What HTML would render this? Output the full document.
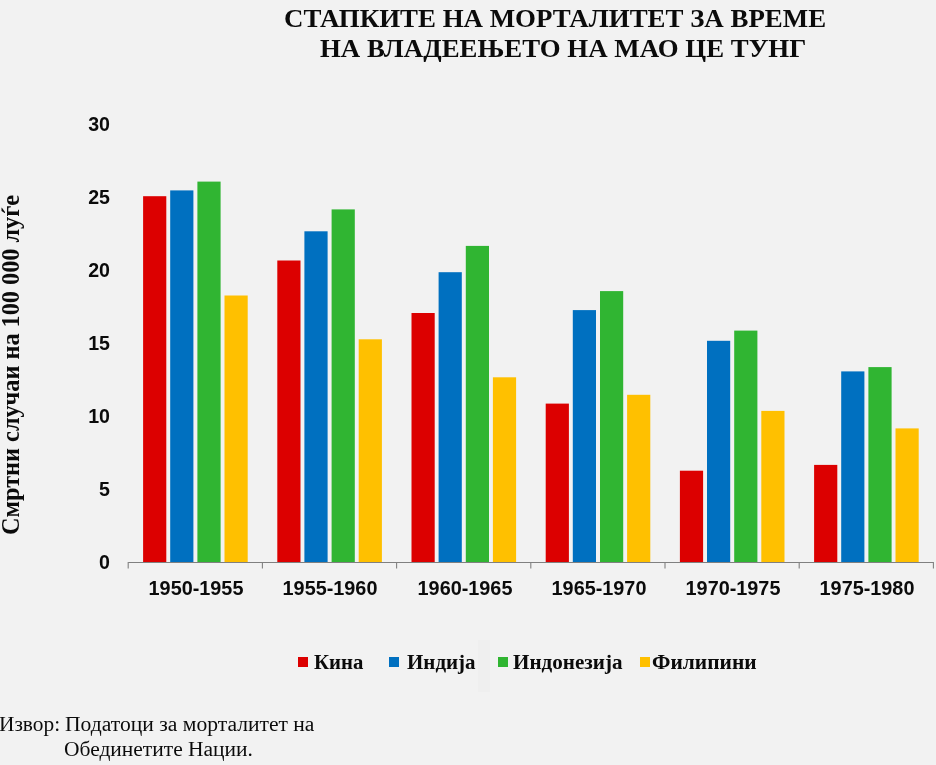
<!DOCTYPE html>
<html lang="mk">
<head>
<meta charset="utf-8">
<title>Стапките на морталитет за време на владеењето на Мао Це Тунг</title>
<style>
html,body{margin:0;padding:0;}
body{width:936px;height:765px;background:#f2f2f2;position:relative;overflow:hidden;font-family:"Liberation Serif",serif;color:#0b0b0b;}
.abs{position:absolute;white-space:pre;line-height:1;transform-origin:0 0;}
.title{font-weight:bold;font-size:24.9px;transform:scaleX(1.08);}
.ylab{font-family:"Liberation Sans",sans-serif;font-weight:bold;font-size:19.6px;text-align:right;width:40px;left:70px;}
.xlab{font-family:"Liberation Sans",sans-serif;font-weight:bold;font-size:19.6px;text-align:center;width:134px;transform-origin:50% 0;transform:scaleX(1.012);}
.bar{position:absolute;}
.leg{font-weight:bold;font-size:20.3px;}
.sq{position:absolute;width:10.3px;height:10px;top:657px;}
.foot{font-size:20.8px;}
.ytitle{font-weight:bold;font-size:24.25px;transform:rotate(-90deg) scaleY(1.05);}
</style>
</head>
<body>
<div class="abs title" style="left:284.3px;top:6.9px">СТАПКИТЕ НА МОРТАЛИТЕТ ЗА ВРЕМЕ</div>
<div class="abs title" style="left:320.3px;top:37.4px;transform:scaleX(1.078)">НА ВЛАДЕЕЊЕТО НА МАО ЦЕ ТУНГ</div>
<div class="abs ytitle" style="left:-1.6px;top:534.6px">Смртни случаи на 100 000 луѓе</div>
<div class="abs ylab" style="top:114.8px">30</div>
<div class="abs ylab" style="top:187.8px">25</div>
<div class="abs ylab" style="top:260.8px">20</div>
<div class="abs ylab" style="top:333.8px">15</div>
<div class="abs ylab" style="top:406.8px">10</div>
<div class="abs ylab" style="top:479.8px">5</div>
<div class="abs ylab" style="top:552.8px">0</div>
<svg class="abs" style="left:0;top:0" width="936" height="765" viewBox="0 0 936 765" shape-rendering="auto">
<rect x="143.1" y="196.2" width="23.2" height="366.5" fill="#dc0000"/>
<rect x="170.2" y="190.4" width="23.2" height="372.3" fill="#0070c0"/>
<rect x="197.4" y="181.6" width="23.2" height="381.1" fill="#30b532"/>
<rect x="224.5" y="295.5" width="23.2" height="267.2" fill="#ffc000"/>
<rect x="277.3" y="260.5" width="23.2" height="302.2" fill="#dc0000"/>
<rect x="304.4" y="231.3" width="23.2" height="331.4" fill="#0070c0"/>
<rect x="331.6" y="209.4" width="23.2" height="353.3" fill="#30b532"/>
<rect x="358.7" y="339.3" width="23.2" height="223.4" fill="#ffc000"/>
<rect x="411.5" y="313.0" width="23.2" height="249.7" fill="#dc0000"/>
<rect x="438.6" y="272.2" width="23.2" height="290.5" fill="#0070c0"/>
<rect x="465.8" y="245.9" width="23.2" height="316.8" fill="#30b532"/>
<rect x="492.9" y="377.3" width="23.2" height="185.4" fill="#ffc000"/>
<rect x="545.7" y="403.6" width="23.2" height="159.1" fill="#dc0000"/>
<rect x="572.8" y="310.1" width="23.2" height="252.6" fill="#0070c0"/>
<rect x="600.0" y="291.1" width="23.2" height="271.6" fill="#30b532"/>
<rect x="627.1" y="394.8" width="23.2" height="167.9" fill="#ffc000"/>
<rect x="679.9" y="470.7" width="23.2" height="92.0" fill="#dc0000"/>
<rect x="707.0" y="340.8" width="23.2" height="221.9" fill="#0070c0"/>
<rect x="734.2" y="330.6" width="23.2" height="232.1" fill="#30b532"/>
<rect x="761.3" y="410.9" width="23.2" height="151.8" fill="#ffc000"/>
<rect x="814.1" y="464.9" width="23.2" height="97.8" fill="#dc0000"/>
<rect x="841.2" y="371.4" width="23.2" height="191.3" fill="#0070c0"/>
<rect x="868.4" y="367.1" width="23.2" height="195.6" fill="#30b532"/>
<rect x="895.5" y="428.4" width="23.2" height="134.3" fill="#ffc000"/>
<path d="M128.2 562.5H933" stroke="#808080" stroke-width="1.1" fill="none"/>
<path d="M128.2 562V568.5" stroke="#808080" stroke-width="1.1" fill="none"/>
<path d="M262.4 562V568.5" stroke="#808080" stroke-width="1.1" fill="none"/>
<path d="M396.6 562V568.5" stroke="#808080" stroke-width="1.1" fill="none"/>
<path d="M530.8 562V568.5" stroke="#808080" stroke-width="1.1" fill="none"/>
<path d="M665.0 562V568.5" stroke="#808080" stroke-width="1.1" fill="none"/>
<path d="M799.2 562V568.5" stroke="#808080" stroke-width="1.1" fill="none"/>
<path d="M933.4 562V568.5" stroke="#808080" stroke-width="1.1" fill="none"/>
</svg>
<div class="abs xlab" style="left:129.1px;top:578.6px">1950-1955</div>
<div class="abs xlab" style="left:263.3px;top:578.6px">1955-1960</div>
<div class="abs xlab" style="left:397.5px;top:578.6px">1960-1965</div>
<div class="abs xlab" style="left:531.7px;top:578.6px">1965-1970</div>
<div class="abs xlab" style="left:665.9px;top:578.6px">1970-1975</div>
<div class="abs xlab" style="left:800.1px;top:578.6px">1975-1980</div>
<div class="sq" style="left:297.5px;background:#dc0000"></div><div class="abs leg" style="left:313.9px;top:651.5px;transform:scaleX(1.023)">Кина</div>
<div class="sq" style="left:389.2px;background:#0070c0"></div><div class="abs leg" style="left:407.2px;top:651.5px;transform:scaleX(1.034)">Индија</div>
<div class="sq" style="left:497.6px;background:#30b532"></div><div class="abs leg" style="left:513.0px;top:651.5px;transform:scaleX(1.040)">Индонезија</div>
<div class="sq" style="left:639.6px;background:#ffc000"></div><div class="abs leg" style="left:652.4px;top:651.5px;transform:scaleX(1.058)">Филипини</div>
<div class="abs" style="left:478px;top:640px;width:12px;height:52px;background:rgba(0,0,0,0.012)"></div>
<div class="abs foot" style="left:-0.6px;top:714px;transform:scaleX(1.027)">Извор:</div>
<div class="abs foot" style="left:65.4px;top:714px;transform:scaleX(1.038)">Податоци за морталитет на</div>
<div class="abs foot" style="left:64.2px;top:738.5px;transform:scaleX(1.033)">Обединетите Нации.</div>
</body>
</html>
